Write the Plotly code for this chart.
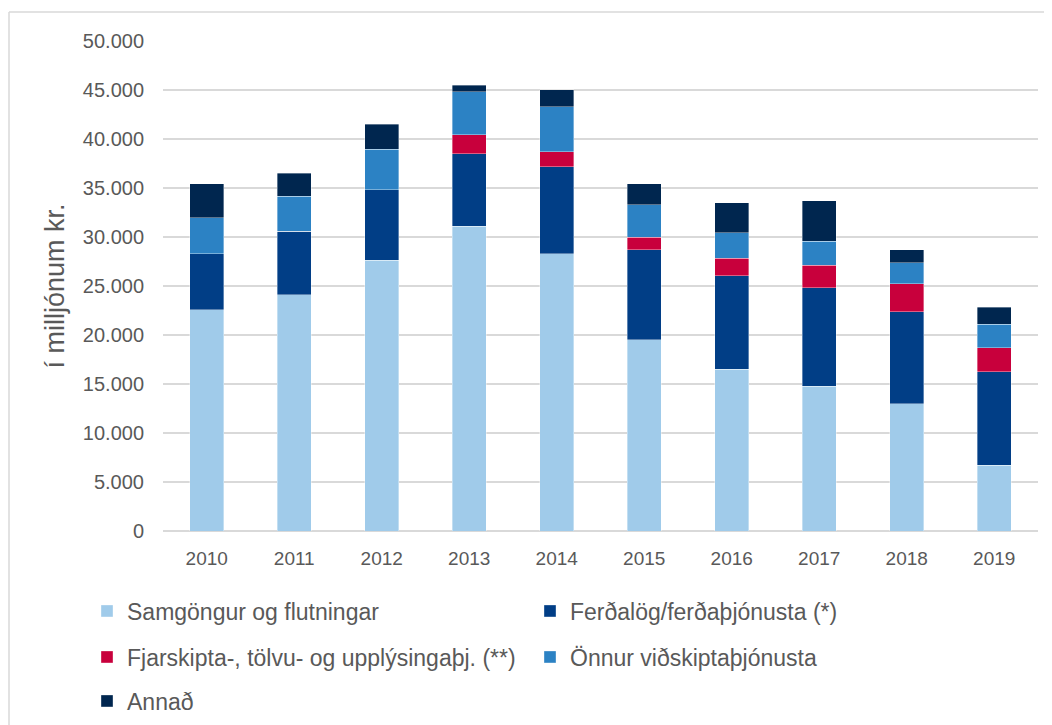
import plotly.graph_objects as go

years = ["2010", "2011", "2012", "2013", "2014", "2015", "2016", "2017", "2018", "2019"]

samgongur = [22590, 24120, 27620, 31090, 28270, 19530, 16500, 14770, 13000, 6700]
ferdalog = [5680, 6490, 7180, 7420, 8910, 9150, 9560, 10030, 9350, 9560]
fjarskipta = [0, 0, 0, 1900, 1500, 1320, 1770, 2340, 2860, 2420]
onnur = [3710, 3540, 4150, 4430, 4590, 3300, 2620, 2420, 2180, 2410]
annad = [3430, 2380, 2580, 640, 1770, 2150, 3020, 4150, 1320, 1740]

names = [
    "Samgöngur og flutningar",
    "Ferðalög/ferðaþjónusta (*)",
    "Fjarskipta-, tölvu- og upplýsingaþj. (**)",
    "Önnur viðskiptaþjónusta",
    "Annað",
]
series = [samgongur, ferdalog, fjarskipta, onnur, annad]
colors = ["#A0CBEA", "#013E86", "#C8003C", "#2C82C4", "#00264F"]
legends = ["legend", "legend", "legend2", "legend2", "legend3"]

FONT = "Liberation Sans, Open Sans, sans-serif"
GRAY = "#595959"

fig = go.Figure()
for nm, vals, col, lg in zip(names, series, colors, legends):
    fig.add_trace(go.Bar(
        x=years, y=vals, name=nm, legend=lg,
        marker=dict(color=col, line=dict(color="rgba(255,255,255,0.6)", width=0.6)),
    ))

# page body has an 8px margin, so figure coordinates = screen coordinates - 8
OFF = 8
W, H = 1052 - OFF, 725 - OFF
L, R, T, B = 163 - OFF, 14, 41 - OFF, 194
pw, ph = W - L - R, H - T - B

def px_x(x):  # screen x -> paper
    return (x - OFF - L) / pw

def px_y(y):  # screen y -> paper
    return (H - B - (y - OFF)) / ph

legend_common = dict(
    orientation="h", xanchor="left", yanchor="middle",
    bgcolor="rgba(0,0,0,0)", font=dict(family=FONT, size=23, color=GRAY),
    entrywidth=398, entrywidthmode="pixels", traceorder="normal",
)

LX = 87
fig.update_layout(
    width=W, height=H,
    margin=dict(l=L, r=R, t=T, b=B, autoexpand=False),
    plot_bgcolor="white", paper_bgcolor="white",
    separators=",.",
    barmode="stack", bargap=0.61,
    font=dict(family=FONT, color=GRAY),
    legend=dict(x=px_x(LX), y=px_y(611), **legend_common),
    legend2=dict(x=px_x(LX), y=px_y(657), **legend_common),
    legend3=dict(x=px_x(LX), y=px_y(701), **legend_common),
    xaxis=dict(
        showgrid=False, showline=False, ticks="",
        tickfont=dict(family=FONT, size=19, color=GRAY),
        ticklabelstandoff=14,
    ),
    yaxis=dict(
        range=[0, 50000], dtick=5000, tickformat=",d",
        showgrid=True, gridcolor="#D9D9D9", gridwidth=1.5,
        zeroline=True, zerolinecolor="#D9D9D9", zerolinewidth=1.5,
        showline=False, ticks="",
        tickfont=dict(family=FONT, size=20, color=GRAY),
        ticklabelstandoff=18,
        title=dict(text="í milljónum kr.", font=dict(family=FONT, size=27, color=GRAY), standoff=10),
    ),
    shapes=[
        dict(type="line", xref="paper", yref="paper", x0=px_x(9), x1=px_x(9), y0=px_y(12), y1=px_y(760),
             line=dict(color="#D9D9D9", width=1.5)),
        dict(type="line", xref="paper", yref="paper", x0=px_x(9), x1=px_x(1100), y0=px_y(12), y1=px_y(12),
             line=dict(color="#D9D9D9", width=1.5)),
    ],
)

fig.write_html("out.html")
